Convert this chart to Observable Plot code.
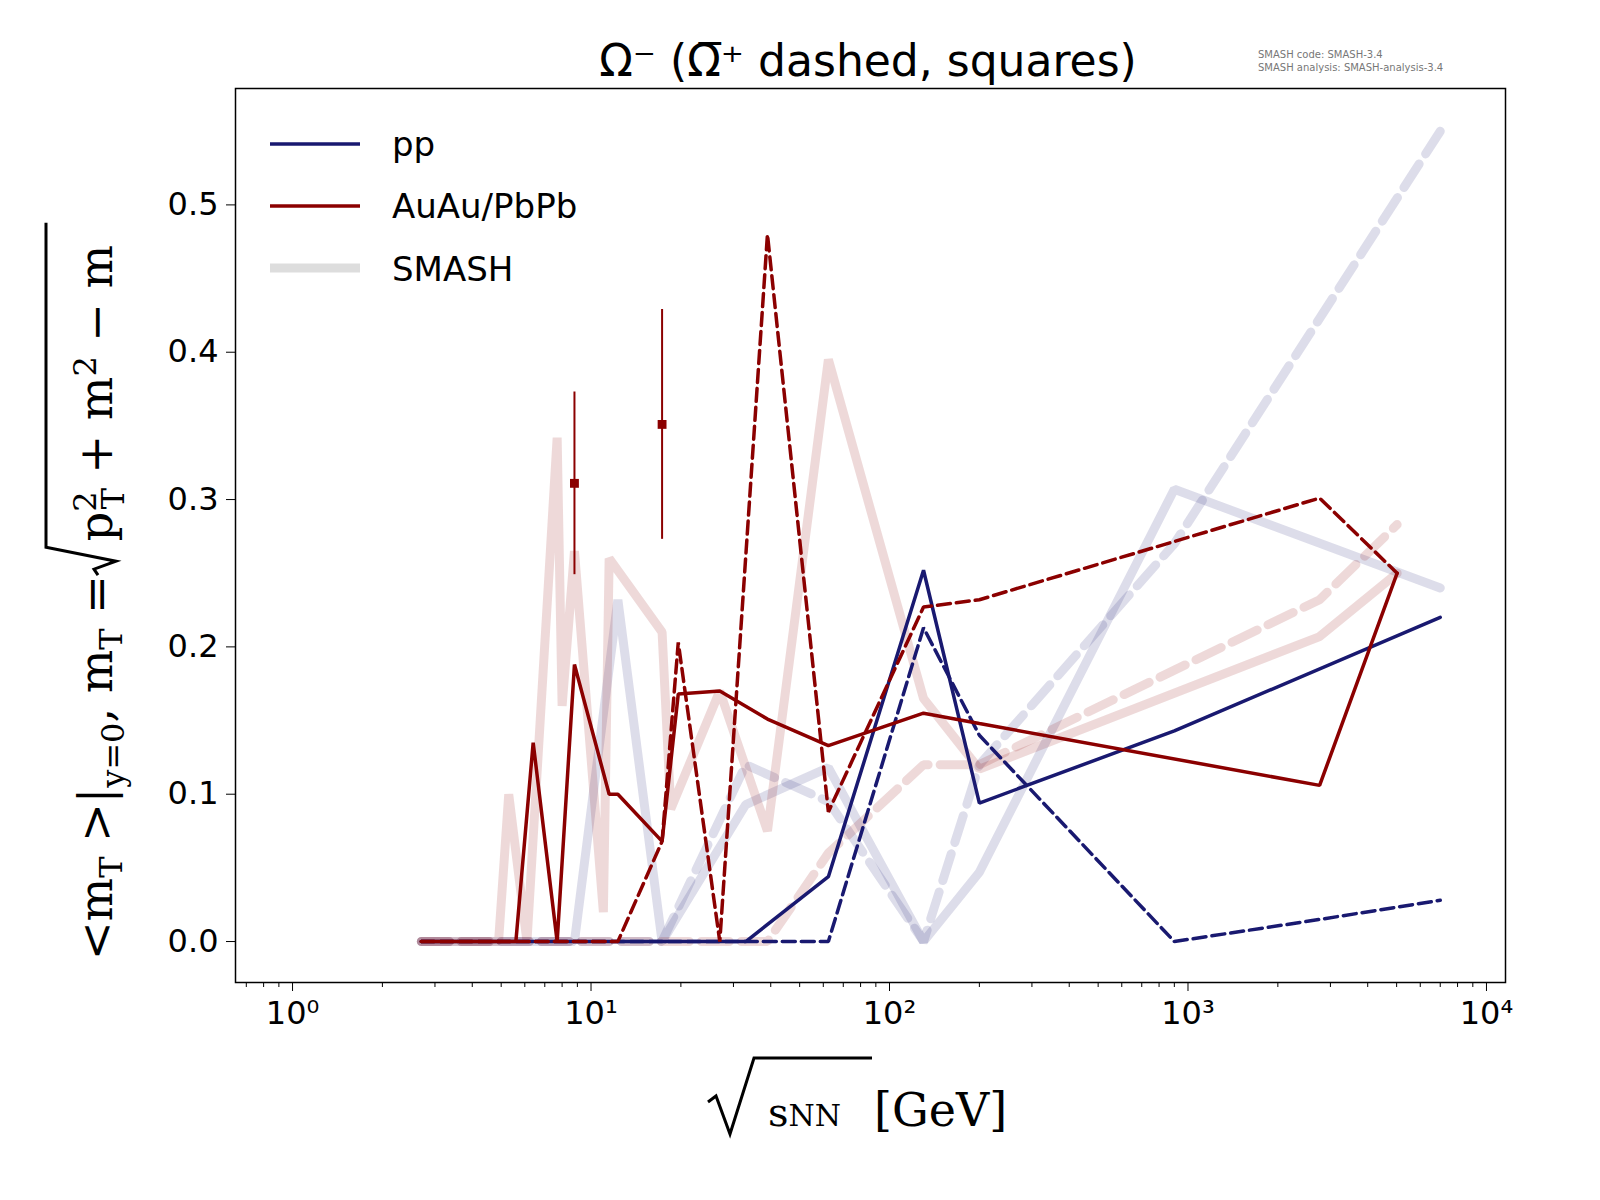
<!DOCTYPE html><html><head><meta charset="utf-8">
<script src="https://cdn.jsdelivr.net/npm/d3@7"></script>
<script src="https://cdn.jsdelivr.net/npm/@observablehq/plot@0.6"></script>
<style>html,body{margin:0;background:#fff;overflow:hidden}#c{position:relative;width:1600px;height:1200px;font-family:"DejaVu Sans"}</style>
</head><body><div id="c"></div><script>
const ppSolid=[[2.7,0],[8.8,0],[17.3,0],[33,0],[62.4,0.044],[130,0.252],[200,0.094],[900,0.143],[7000,0.22]];
const ppDashed=[[2.7,0],[62.4,0],[130,0.213],[200,0.14],[900,0],[2760,0.015],[7000,0.028]];
const aaSolid=[[2.7,0],[5.6,0],[6.4,0.135],[7.7,0],[8.8,0.188],[11.5,0.1],[12.3,0.1],[17.3,0.068],[19.6,0.168],[27,0.17],[39,0.151],[62.4,0.133],[130,0.155],[200,0.148],[2760,0.106],[5020,0.25]];
const aaDashed=[[2.7,0],[12.3,0],[17.3,0.068],[19.6,0.203],[27,0],[39,0.48],[62.4,0.088],[130,0.227],[200,0.232],[2760,0.301],[5020,0.25]];
const aaSmashSolid=[[2.7,0],[4.9,0],[5.3,0.1],[6.1,0],[7.7,0.342],[8.0,0.16],[8.8,0.265],[11.0,0.02],[11.5,0.26],[17.3,0.21],[18.5,0.09],[27,0.17],[39,0.075],[62.4,0.395],[130,0.165],[200,0.117],[2760,0.207],[5020,0.25]];
const aaSmashDashed=[[2.7,0],[39,0],[62.4,0.06],[130,0.12],[200,0.12],[2760,0.232],[5020,0.283]];
const ppSmashSolid=[[2.7,0],[8.8,0],[12.3,0.232],[17.3,0],[33,0.093],[62.4,0.118],[130,0],[200,0.047],[900,0.307],[7000,0.24]];
const ppSmashDashed=[[2.7,0],[17.3,0],[33,0.12],[62.4,0.095],[130,0.0],[200,0.12],[900,0.27],[7000,0.55]];
const expX=[8.8,17.3],expY=[0.311,0.351],expErr=[0.062,0.078];
const majorTicks=[1,10,100,1000,10000],tickLabels=["10⁰","10¹","10²","10³","10⁴"];
const minorTicks=[];for(let d=-1;d<4;d++)for(let k=2;k<10;k++){const v=k*10**d;if(v>0.65&&v<11500)minorTicks.push(v);}
const exp=expX.map((x,i)=>({x,y:expY[i],lo:expY[i]-expErr[i],hi:expY[i]+expErr[i]}));
const navy="#191970",red="#8b0000";
const ln=(d,c,w,dash,op=1)=>Plot.line(d,{x:d=>d[0],y:d=>d[1],stroke:c,strokeWidth:w,strokeDasharray:dash,strokeOpacity:op,strokeLinejoin:"miter"});
const p=Plot.plot({width:1600,height:1200,marginLeft:235,marginRight:95,marginTop:88,marginBottom:218,
 style:{fontSize:"30px",fontFamily:"DejaVu Sans",color:"#000"},
 x:{type:"log",domain:[0.644,11580],label:null},
 y:{domain:[-0.0278,0.579],label:null},
 marks:[
  ln(ppSmashSolid,navy,9,null,0.15),ln(ppSmashDashed,navy,9,"28 12",0.15),
  ln(aaSmashSolid,red,9,null,0.15),ln(aaSmashDashed,red,9,"28 12",0.15),
  ln(ppSolid,navy,3.5,null),ln(ppDashed,navy,3.5,"13 6"),
  ln(aaSolid,red,3.5,null),ln(aaDashed,red,3.5,"13 6"),
  Plot.ruleX(exp,{x:"x",y1:"lo",y2:"hi",stroke:red,strokeWidth:2}),
  Plot.dot(exp,{x:"x",y:"y",symbol:"square",fill:red,r:5}),
  Plot.frame({stroke:"#000",strokeWidth:1.5}),
  Plot.axisX({ticks:majorTicks,tickFormat:(d)=>tickLabels[majorTicks.indexOf(d)],tickSize:9,tickPadding:10,fontSize:32}),
  Plot.axisX({ticks:minorTicks,tickFormat:()=>"",tickSize:5}),
  Plot.axisY({ticks:[0,0.1,0.2,0.3,0.4,0.5],tickFormat:d3.format(".1f"),tickSize:9,tickPadding:8,fontSize:32})
 ]});
const c=document.getElementById("c");c.appendChild(p);p.style.position="absolute";p.style.left="0";p.style.top="0";
const ns="http://www.w3.org/2000/svg";
const ov=document.createElementNS(ns,"svg");ov.setAttribute("width",1600);ov.setAttribute("height",1200);ov.style.position="absolute";ov.style.left=0;ov.style.top=0;
ov.innerHTML=`
<text x="868" y="76" text-anchor="middle" font-size="44" font-family="DejaVu Sans">Ω⁻ (Ω̅⁺ dashed, squares)</text>
<text x="1258" y="58" font-size="10" fill="#777" font-family="DejaVu Sans">SMASH code:      SMASH-3.4</text>
<text x="1258" y="71" font-size="10" fill="#777" font-family="DejaVu Sans">SMASH analysis: SMASH-analysis-3.4</text>
<line x1="270" x2="360" y1="144" y2="144" stroke="${navy}" stroke-width="3.5"/>
<text x="392" y="156" font-size="34">pp</text>
<line x1="270" x2="360" y1="206" y2="206" stroke="${red}" stroke-width="3.5"/>
<text x="392" y="218" font-size="34">AuAu/PbPb</text>
<line x1="270" x2="360" y1="268" y2="268" stroke="#ddd" stroke-width="9"/>
<text x="392" y="281" font-size="34">SMASH</text>
<g font-family="DejaVu Serif" font-size="46">
<path d="M708 1102 l8 -6 l14 38 l24 -76 h118" fill="none" stroke="#000" stroke-width="3"/>
<text x="768" y="1126" font-size="40">s<tspan font-size="30">NN</tspan></text>
<text x="874" y="1126">[GeV]</text>
</g>
<g id="yl" transform="translate(112,0) rotate(-90)" font-family="DejaVu Serif" font-size="46">
<text id="t1" x="0" y="0">&lt;m<tspan font-size="32" dy="10">T</tspan><tspan dy="-10"> &gt;|</tspan><tspan font-size="32" dy="12">y=0</tspan><tspan dy="-12">,  m</tspan><tspan font-size="32" dy="10">T</tspan><tspan dy="-10"> = </tspan></text>
<path id="rad" fill="none" stroke="#000" stroke-width="3"/>
<text id="t2" y="0">p<tspan font-size="32" dy="-16">2</tspan><tspan font-size="32" dx="-18" dy="28">T</tspan><tspan dy="-12"> + m</tspan><tspan font-size="32" dy="-16">2</tspan><tspan dy="16"> − m</tspan></text>
</g>`;
c.appendChild(ov);
const t1=ov.querySelector("#t1"),t2=ov.querySelector("#t2"),rad=ov.querySelector("#rad");
const w1=t1.getComputedTextLength(),w2=t2.getComputedTextLength();
const rw=30, total=w1+rw+w2;
const start=-960; // along rotated x (= -page y)
t1.setAttribute("x",start);
const rx=start+w1;
t2.setAttribute("x",rx+rw+4);
rad.setAttribute("d",`M${rx} -14 l6 -4 l8 22 l14 -70 H${rx+rw+4+w2+4}`);
</script></body></html>
